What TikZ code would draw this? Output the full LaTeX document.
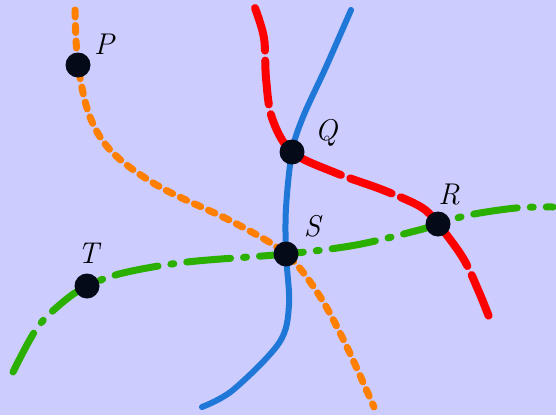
\documentclass[tikz,border=0pt]{standalone}
\usetikzlibrary{calc}
\definecolor{bg}{HTML}{CCCCFF}
\definecolor{orng}{HTML}{FF7F00}
\definecolor{rd}{HTML}{FF0000}
\definecolor{blu}{HTML}{1F78D8}
\definecolor{grn}{HTML}{2BB000}
\definecolor{dotc}{HTML}{050A18}
\begin{document}
\begin{tikzpicture}[x=1pt,y=-1pt,
  pt/.style={circle,fill=dotc,minimum size=25pt,inner sep=0pt},
  lbl/.style={inner sep=0pt,font=\fontsize{30}{32}\selectfont\itshape},
  orangeline/.style={orng,line width=7pt,line cap=round,dash pattern=on 7pt off 8.5pt},
  redline/.style={rd,line width=8pt,line cap=round,dash pattern=on 44pt off 10pt},
  blueline/.style={blu,line width=6pt,line cap=round},
  greenline/.style={grn,line width=7pt,line cap=round,dash pattern=on 44pt off 13pt on 3pt off 13pt},
  smoothline/.style={smooth,tension=0.55}]
\fill[bg] (0,0) rectangle (556,415);
\useasboundingbox (0,0) rectangle (556,415);
\coordinate (p) at (78,65);
\coordinate (q) at (292,152);
\coordinate (r) at (438,224);
\coordinate (s) at (286,254);
\coordinate (t) at (87,286);
% curves
\draw[orangeline] plot[smoothline] coordinates {(75,10) (p) (90,117) (113,153) (160,187) (233,222) (s) (319,295) (346,345) (374,407)};
\draw[redline] plot[smoothline] coordinates {(255,8) (264,38) (266,78) (272,118) (q) (336,173) (383,190) (421,207) (r) (463,258) (479,292) (491,322)};
\draw[blueline] plot[smoothline] coordinates {(351,10) (326,67) (303,117) (q) (286,208) (s) (289,305) (279,343) (233,390) (202,407)};
\draw[greenline] plot[smoothline] coordinates {(13,372) (37,328) (63,302) (t) (123,273) (187,262) (s) (356,245) (419,230) (r) (469,215) (516,208) (553,207)};
% points
\node[pt] (P) at (p) {};
\node[pt] (Q) at (q) {};
\node[pt] (R) at (r) {};
\node[pt] (S) at (s) {};
\node[pt] (T) at (t) {};
% labels
\node[lbl] (Pl) at (104,44) {P};
\node[lbl] (Ql) at (326,133) {Q};
\node[lbl] (Rl) at (449,195) {R};
\node[lbl] (Sl) at (312,226) {S};
\node[lbl] (Tl) at (88,253) {T};
\end{tikzpicture}
\end{document}
